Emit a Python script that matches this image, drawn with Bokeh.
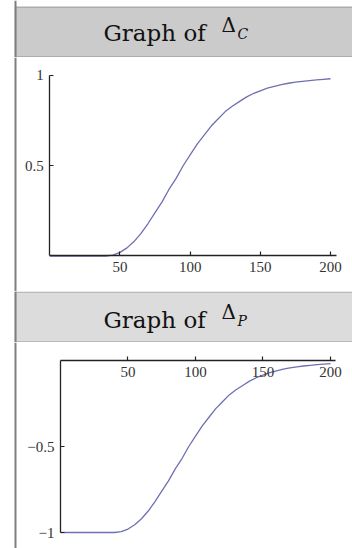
from bokeh.plotting import figure
from bokeh.layouts import column
from bokeh.models import (Range1d, LinearAxis, FixedTicker, Span, Label,
                          BoxAnnotation, ColumnDataSource)
from bokeh.embed import file_html
from bokeh.resources import INLINE

# ---- data ----
stock = [0, 5, 10, 15, 20, 25, 30, 35, 40, 45, 50, 55, 60, 65, 70, 75, 80,
         85, 90, 95, 100, 105, 110, 115, 120, 125, 130, 135, 140, 145, 150,
         155, 160, 165, 170, 175, 180, 185, 190, 195, 200]
delta_c = [0, 0, 0, 0, 0, 0, 0, 0, 0, 0.005, 0.02, 0.045, 0.08, 0.125, 0.18,
           0.24, 0.30, 0.37, 0.43, 0.50, 0.56, 0.62, 0.67, 0.72, 0.76, 0.80,
           0.83, 0.855, 0.88, 0.90, 0.915, 0.93, 0.94, 0.95, 0.957, 0.963,
           0.968, 0.972, 0.976, 0.979, 0.982]
delta_p = [-1, -1, -1, -1, -1, -1, -1, -1, -1, -0.995, -0.98, -0.955, -0.92,
           -0.875, -0.82, -0.76, -0.70, -0.63, -0.57, -0.50, -0.44, -0.38,
           -0.33, -0.28, -0.24, -0.20, -0.17, -0.145, -0.12, -0.10, -0.085,
           -0.07, -0.06, -0.05, -0.043, -0.037, -0.032, -0.028, -0.024,
           -0.021, -0.018]
x_ticks = [50, 100, 150, 200]
yc_ticks = [0.5, 1]
yc_labels = ["0.5", "1"]
yp_ticks = [-1, -0.5]
yp_labels = ["\u22121", "\u22120.5"]
titles = [("Graph of", "\u0394", "C"), ("Graph of", "\u0394", "P")]

W = 352
BORDER = "#7f7f7f"
CURVE = "#6f6fb2"
SERIF = "DejaVu Serif"
TICKFONT = "Liberation Serif"


def header(h, top_gap, base, parts, fill):
    p = figure(width=W, height=h, x_range=Range1d(0, W), y_range=Range1d(0, h),
               x_axis_type=None, y_axis_type=None, min_border=0,
               toolbar_location=None, output_backend="svg",
               outline_line_color=None, background_fill_color="white",
               border_fill_color="white")
    p.add_layout(BoxAnnotation(left=15, right=W + 5, bottom=0.5,
                               top=h - top_gap - 0.5,
                               fill_color=fill, fill_alpha=1,
                               line_color="#4a4a4a", line_width=1.5))
    p.add_layout(Span(location=15, dimension="height", line_color=BORDER,
                      line_width=2))
    main, sym, sub = parts
    p.add_layout(Label(x=103, y=base, text=main, text_font=SERIF,
                       text_font_size="23px", text_color="#111111",
                       text_baseline="alphabetic"))
    p.add_layout(Label(x=221, y=base + 8, text=sym, text_font=SERIF,
                       text_font_size="20px", text_color="#111111",
                       text_baseline="alphabetic"))
    p.add_layout(Label(x=237, y=base - 1, text=sub, text_font=SERIF,
                       text_font_style="italic", text_font_size="14px",
                       text_color="#111111", text_baseline="alphabetic"))
    return p


def style_axis(ax):
    ax.axis_line_color = "#222222"
    ax.axis_line_width = 1.3
    ax.major_tick_line_color = "#222222"
    ax.major_tick_line_width = 1.2
    ax.major_tick_in = 4
    ax.major_tick_out = 0
    ax.minor_tick_in = 0
    ax.minor_tick_out = 0
    ax.major_label_text_font = TICKFONT
    ax.major_label_text_font_size = "15px"
    ax.major_label_text_color = "#333333"
    ax.major_label_standoff = 6


def plot(h, xr, yr, ys, border_x, yticks, ylabels, xbounds, ybounds):
    p = figure(width=W, height=h, x_range=Range1d(*xr), y_range=Range1d(*yr),
               x_axis_location=None, y_axis_location=None, min_border=0,
               toolbar_location=None, output_backend="svg",
               outline_line_color=None, background_fill_color="white",
               border_fill_color="white")
    p.xgrid.visible = False
    p.ygrid.visible = False
    src = ColumnDataSource(dict(x=stock, y=ys))
    p.line("x", "y", source=src, line_color=CURVE, line_width=1.3)
    xa = LinearAxis(fixed_location=0, ticker=FixedTicker(ticks=x_ticks),
                    bounds=xbounds)
    style_axis(xa)
    p.add_layout(xa, "below")
    ya = LinearAxis(fixed_location=0, ticker=FixedTicker(ticks=yticks),
                    bounds=ybounds,
                    major_label_overrides={t: l for t, l in zip(yticks, ylabels)})
    style_axis(ya)
    p.add_layout(ya, "left")
    p.add_layout(Span(location=border_x, dimension="height",
                      line_color=BORDER, line_width=2))
    return p


h1 = header(57, 6, 25, titles[0], "#cbcbcb")
p1 = plot(234, (-35.13, 215.68), (-0.1967, 1.0997), delta_c, -24.44,
          yc_ticks, yc_labels, (0, 204), (0, 1))
h2 = header(51, 0, 23, titles[1], "#dcdcdc")
p2 = plot(206, (-44.44, 216.3), (-1.093, 0.1047), delta_p, -33.33,
          yp_ticks, yp_labels, (0, 204), (-1, 0))

layout = column(h1, p1, h2, p2, spacing=0)
open("out.html", "w").write(file_html(layout, INLINE))
